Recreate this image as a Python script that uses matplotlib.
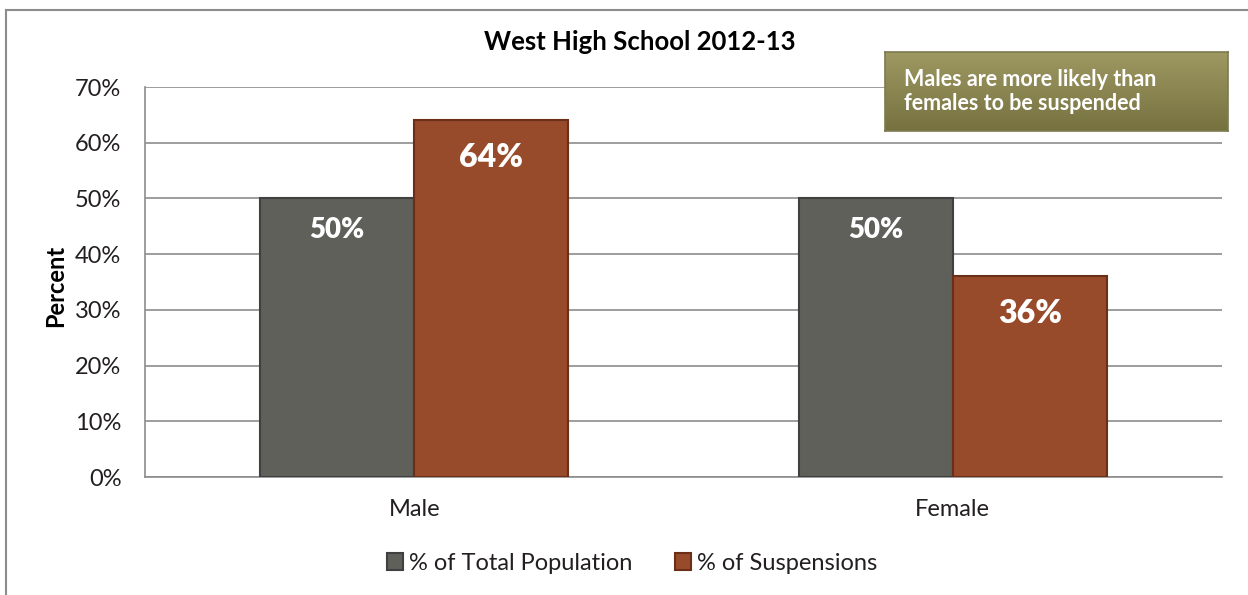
import numpy as np
import matplotlib
matplotlib.use("Agg")
import matplotlib.pyplot as plt
from matplotlib.lines import Line2D
from matplotlib.colors import LinearSegmentedColormap

plt.rcParams['font.family'] = ['Lato', 'DejaVu Sans']

categories = ["Male", "Female"]
total_population = [50, 50]
suspensions = [64, 36]
series_names = ["% of Total Population", "% of Suspensions"]
yticks = [0, 10, 20, 30, 40, 50, 60, 70]

gray = '#5f605a'
gray_edge = '#404040'
rust = '#974b2b'
rust_edge = '#6b2f18'
grid_c = '#8c8c8c'
txt_c = '#231f20'

W, H = 1248, 595
fig = plt.figure(figsize=(W / 100, H / 100), dpi=100)
ax = fig.add_axes([145 / W, 1 - 477 / H, (1222 - 145) / W, (477 - 87) / H])

x = np.arange(len(categories))
bw = 0.286
b1 = ax.bar(x - bw / 2, total_population, bw, color=gray, edgecolor=gray_edge,
            linewidth=1.5, label=series_names[0], zorder=3)
b2 = ax.bar(x + bw / 2, suspensions, bw, color=rust, edgecolor=rust_edge,
            linewidth=1.5, label=series_names[1], zorder=3)

# value labels inside bars
for rect, v in zip(b1, total_population):
    ax.text(rect.get_x() + rect.get_width() / 2, v - 5.7, f"{v}%", ha='center',
            va='center', color='white', fontsize=20, fontweight='heavy', zorder=4)
for rect, v in zip(b2, suspensions):
    ax.text(rect.get_x() + rect.get_width() / 2, v - 6.6, f"{v}%", ha='center',
            va='center', color='white', fontsize=23, fontweight='heavy', zorder=4)

ax.set_xlim(-0.5, 1.5)
ax.set_ylim(0, 70)
ax.set_yticks(yticks)
ax.set_yticklabels([f"{t}%" for t in yticks], fontsize=17, color=txt_c)
ax.set_xticks(x)
ax.set_xticklabels(categories, fontsize=17, color=txt_c)
ax.tick_params(axis='both', length=0)
ax.tick_params(axis='y', pad=17)
ax.tick_params(axis='x', pad=16)
ax.yaxis.grid(True, color=grid_c, linewidth=1.2, zorder=0)
ax.set_axisbelow(True)
for s in ['top', 'right']:
    ax.spines[s].set_visible(False)
for s in ['left', 'bottom']:
    ax.spines[s].set_color(grid_c)
    ax.spines[s].set_linewidth(1.2)

ax.set_ylabel("Percent", fontsize=17, fontweight='bold')
ax.yaxis.set_label_coords(-(145 - 67) / (1222 - 145), 0.49)

fig.text(640 / W, 1 - 42 / H, "West High School 2012-13", ha='center', va='center',
         fontsize=18.5, fontweight='bold', color='black')

ax.legend(loc='center', bbox_to_anchor=(632 / W, 1 - 563 / H),
          bbox_transform=fig.transFigure, ncol=2, frameon=False, fontsize=17,
          handlelength=0.7, handleheight=0.7, handletextpad=0.25,
          columnspacing=1.8, labelcolor=txt_c)

# annotation box with vertical gradient
bx = fig.add_axes([885 / W, 1 - 131 / H, (1228 - 885) / W, (131 - 52) / H])
grad = np.linspace(0, 1, 100).reshape(-1, 1)
cmap = LinearSegmentedColormap.from_list('olive', ['#9e9862', '#767240'])
bx.imshow(grad, aspect='auto', cmap=cmap, extent=[0, 1, 0, 1], origin='upper')
bx.set_xlim(0, 1)
bx.set_ylim(0, 1)
bx.set_xticks([])
bx.set_yticks([])
for s in bx.spines.values():
    s.set_color('#7d7a50')
    s.set_linewidth(1.2)
bx.text(0.055, 0.5, "Males are more likely than\nfemales to be suspended",
        ha='left', va='center', color='white', fontsize=15.5, fontweight='bold',
        linespacing=1.2, transform=bx.transAxes)

# outer chart border (left and top edges visible)
fig.add_artist(Line2D([6 / W, 6 / W], [0, 1 - 10 / H], color=grid_c, linewidth=1.5,
                      transform=fig.transFigure))
fig.add_artist(Line2D([6 / W, 1], [1 - 10 / H, 1 - 10 / H], color=grid_c, linewidth=1.5,
                      transform=fig.transFigure))

fig.savefig("out.png", dpi=100)
